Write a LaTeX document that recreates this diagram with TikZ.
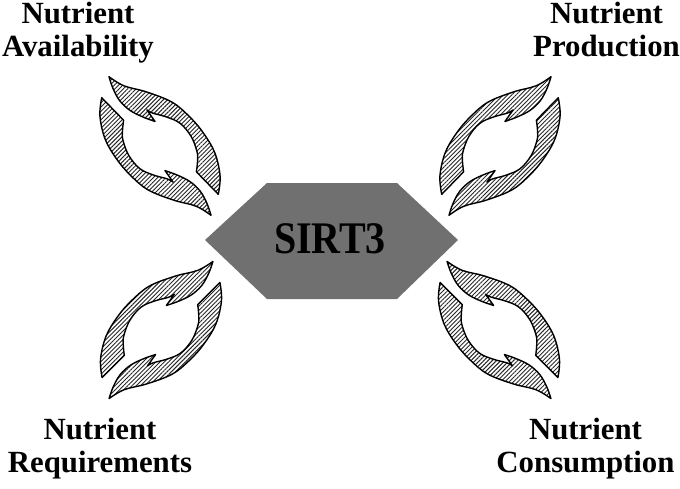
\documentclass[tikz,border=0pt]{standalone}
\usepackage{fontspec}
\setmainfont{Liberation Serif}
\usepackage{graphicx}
\usetikzlibrary{patterns.meta}
\definecolor{hexgray}{RGB}{112,112,112}
\tikzset{
  cycarrow/.style={draw=black, line width=1.4pt, line join=round,
    pattern={Lines[angle=45,distance=3pt,line width=0.95pt]}, pattern color=black!85},
  lbl/.style={inner sep=0pt, anchor=base, font=\fontsize{30.8}{33.3}\selectfont\bfseries},
  hexbox/.style={fill=hexgray}
}
\newcommand{\halfcycle}{%
  plot[smooth, tension=0.6] coordinates {(-86,-2) (-70,5) (-52,20) (-29,35) (-7,41) (14,43) (37,41) (59,32) (73,20)}
  -- (42,15)
  -- plot[smooth, tension=0.6] coordinates {(42,15) (34,22) (26,27) (10,31) (-7,29.5) (-20,22) (-31,13) (-37,10)}
  -- (-23,10)
  -- plot[smooth, tension=0.6] coordinates {(-23,10) (-33,3) (-46,-4) (-60,-7) (-74,-5.5) (-86,-2)}
  -- cycle}
\newcommand{\fullcycle}{%
  \path[cycarrow] \halfcycle;
  \path[cycarrow, rotate=180] \halfcycle;}
\begin{document}
\begin{tikzpicture}
\useasboundingbox (0,0) rectangle (680pt,-488pt);
% central hexagon
\fill[hexbox] (205pt,-240pt) -- (267pt,-183pt) -- (397pt,-183pt) -- (458pt,-240pt)
  -- (397pt,-299pt) -- (267pt,-299pt) -- cycle;
\node[inner sep=0pt, anchor=base, font=\fontsize{40}{40}\selectfont\bfseries] (sirt) at (330pt,-253pt) {\scalebox{1}[1.13]{SIRT3}};
% cycles
\begin{scope}[shift={(160pt,-146pt)}, x={(0.574pt,-0.819pt)}, y={(0.819pt,0.574pt)}]
  \fullcycle
\end{scope}
\begin{scope}[shift={(500pt,-146pt)}, x={(-0.574pt,-0.819pt)}, y={(-0.819pt,0.574pt)}]
  \fullcycle
\end{scope}
\begin{scope}[shift={(161pt,-330pt)}, x={(-0.585pt,-0.811pt)}, y={(-0.811pt,0.585pt)}]
  \fullcycle
\end{scope}
\begin{scope}[shift={(499pt,-330pt)}, x={(0.585pt,-0.811pt)}, y={(0.811pt,0.585pt)}]
  \fullcycle
\end{scope}
% labels
\node[lbl] (avail) at (78pt,-23.6pt) {\begin{tabular}[t]{@{}c@{}}Nutrient\\Availability\end{tabular}};
\node[lbl] (prod) at (606.5pt,-23.6pt) {\begin{tabular}[t]{@{}c@{}}Nutrient\\Production\end{tabular}};
\node[lbl] (req) at (100pt,-439pt) {\begin{tabular}[t]{@{}c@{}}Nutrient\\Requirements\end{tabular}};
\node[lbl] (cons) at (585.5pt,-439pt) {\begin{tabular}[t]{@{}c@{}}Nutrient\\Consumption\end{tabular}};
\end{tikzpicture}
\end{document}
